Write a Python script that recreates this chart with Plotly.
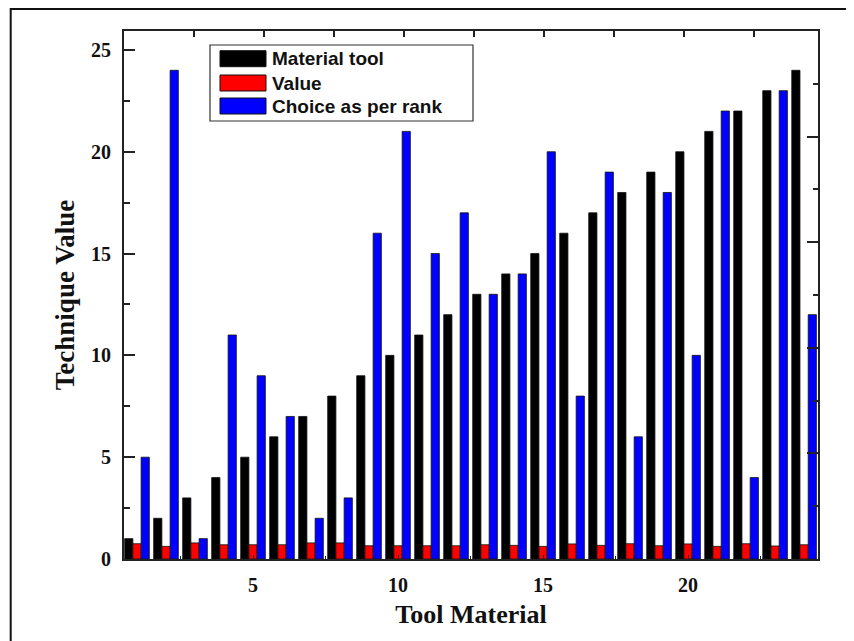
import plotly.graph_objects as go

# ---- data ----
tools = list(range(1, 25))
material_tool = [1, 2, 3, 4, 5, 6, 7, 8, 9, 10, 11, 12,
                 13, 14, 15, 16, 17, 18, 19, 20, 21, 22, 23, 24]
value = [0.75, 0.62, 0.79, 0.70, 0.70, 0.70, 0.79, 0.79, 0.65, 0.65, 0.65, 0.65,
         0.70, 0.67, 0.62, 0.74, 0.67, 0.75, 0.65, 0.74, 0.62, 0.75, 0.64, 0.70]
choice_rank = [5, 24, 1, 11, 9, 7, 2, 3, 16, 21, 15, 17,
               13, 14, 20, 8, 19, 6, 18, 10, 22, 4, 23, 12]
x_ticks = [5, 10, 15, 20]
series_names = ["Material tool", "Value", "Choice as per rank"]
series_colors = ["#000000", "#ff0000", "#0000ff"]

# page has an 8px body margin: figure drawn from screen (8,8)
OFF = 8
W, H = 854 - OFF, 641 - OFF
L, R, T, B = 124, 818, 31, 559  # plot area in screen pixels

fig = go.Figure()
for name, vals, col in zip(series_names, [material_tool, value, choice_rank], series_colors):
    fig.add_trace(go.Bar(x=tools, y=vals, name=name, marker_color=col,
                         marker_line_color="#111", marker_line_width=0.8,
                         showlegend=False))

# empty trace so the mirrored top/right axes get drawn
fig.add_trace(go.Scatter(x=[], y=[], xaxis="x2", yaxis="y2", showlegend=False, hoverinfo="skip"))

tick_font = dict(family="Liberation Serif", size=20, color="#111", weight="bold")
title_font = dict(family="Liberation Serif", size=26, color="#111", weight="bold")

fig.update_layout(
    width=W, height=H,
    margin=dict(l=L - OFF, r=854 - R, t=T - OFF, b=641 - B, pad=0),
    paper_bgcolor="white", plot_bgcolor="white",
    barmode="group", bargap=0.15, bargroupgap=0,
    xaxis=dict(range=[0.552, 24.48], tickvals=x_ticks, ticks="inside", ticklen=4,
               tickwidth=1, tickcolor="#222",
               minor=dict(dtick=2.5, tick0=0, ticks="inside", ticklen=3, tickcolor="#222"),
               showline=True, linewidth=2, linecolor="#222", mirror=True,
               showgrid=False, zeroline=False, tickfont=tick_font, ticklabelstandoff=7,
               title=dict(text="Tool Material", font=title_font, standoff=10)),
    yaxis=dict(range=[0, 25.93], dtick=5, tick0=0, ticks="inside", ticklen=11,
               tickwidth=2, tickcolor="#222",
               minor=dict(dtick=2.5, ticks="inside", ticklen=6, tickwidth=2, tickcolor="#222"),
               showline=True, linewidth=2, linecolor="#222", mirror=True,
               showgrid=False, zeroline=False, tickfont=tick_font, ticklabelstandoff=7,
               title=dict(text="Technique Value", font=dict(family="Liberation Serif", size=27,
                                                            color="#111", weight="bold"),
                          standoff=9)),
    xaxis2=dict(overlaying="x", side="top", anchor="y", range=[0, 9.914], dtick=1, tick0=0,
                ticks="inside", ticklen=6, tickwidth=2, tickcolor="#222",
                showticklabels=False, showgrid=False, zeroline=False, showline=False),
    yaxis2=dict(overlaying="y", side="right", anchor="x", range=[0, 10], dtick=2, tick0=0,
                ticks="inside", ticklen=11, tickwidth=2, tickcolor="#222",
                minor=dict(dtick=1, ticks="inside", ticklen=5, tickwidth=2, tickcolor="#222"),
                showticklabels=False, showgrid=False, zeroline=False, showline=False),
)

def px_x(p):
    return (p - L) / (R - L)

def px_y(p):
    return (B - p) / (B - T)

shapes = []
# outer frame around the whole picture
shapes.append(dict(type="rect", xref="paper", yref="paper",
                   x0=px_x(10.7), x1=px_x(850.5), y0=px_y(650), y1=px_y(9),
                   line=dict(color="#111", width=2), fillcolor="rgba(0,0,0,0)", layer="above"))
# legend box
shapes.append(dict(type="rect", xref="paper", yref="paper",
                   x0=px_x(210), x1=px_x(473), y0=px_y(121), y1=px_y(45),
                   line=dict(color="#333", width=1.2), fillcolor="white", layer="above"))
annotations = []
rows = [(50.7, 66.7), (75, 91), (98, 114)]
for (y0, y1), name, col in zip(rows, series_names, series_colors):
    shapes.append(dict(type="rect", xref="paper", yref="paper",
                       x0=px_x(220), x1=px_x(266), y0=px_y(y1), y1=px_y(y0),
                       line=dict(color="#111", width=1), fillcolor=col, layer="above"))
    annotations.append(dict(xref="paper", yref="paper", x=px_x(270), y=px_y((y0 + y1) / 2),
                            text=name, showarrow=False, xanchor="left", yanchor="middle",
                            font=dict(family="Liberation Sans", size=19, color="#111", weight="bold")))
fig.update_layout(shapes=shapes, annotations=annotations)

fig.write_html("out.html")
